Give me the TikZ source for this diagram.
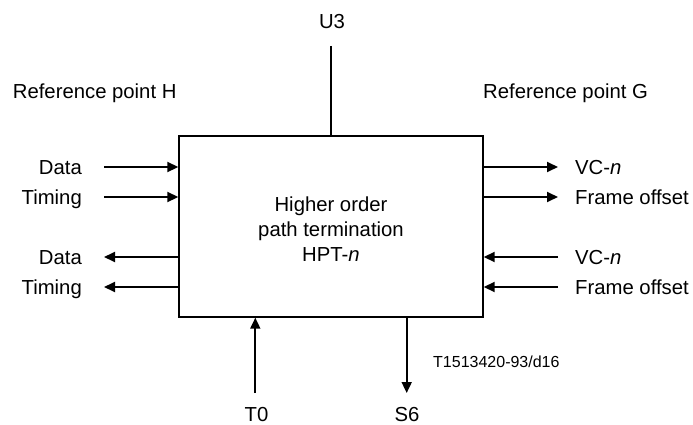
\documentclass[tikz,border=0pt]{standalone}
\usepackage{fontspec}
\setmainfont{Liberation Sans}
\usetikzlibrary{arrows.meta}
\begin{document}
\begin{tikzpicture}[x=1pt,y=-1pt,
  lbl/.style={font=\fontsize{20.3}{25}\selectfont, inner sep=0pt},
  small/.style={font=\fontsize{16}{19}\selectfont, inner sep=0pt},
  arr/.style={line width=1.8pt, -{Triangle[length=11pt,width=10pt]}},
  plain/.style={line width=1.8pt},
  boxst/.style={draw, line width=1.4pt, minimum width=304pt, minimum height=181pt, inner sep=0pt}]
\useasboundingbox (0,0) rectangle (693,425);
% main box
\node[boxst] (hpt) at (331,226.5) {};
\node[lbl, anchor=base] (t1) at (331,211.7) {Higher order};
\node[lbl, anchor=base] (t2) at (331,236.7) {path termination};
\node[lbl, anchor=base] (t3) at (331,261.7) {HPT-\textit{n}};
% reference points
\node[lbl, anchor=base west] (refH) at (12.7,98.3) {Reference point H};
\node[lbl, anchor=base west] (refG) at (483,98.3) {Reference point G};
% U3
\node[lbl, anchor=base] (u3) at (332,28.3) {U3};
\coordinate (u3end) at (331,46);
\draw[plain] (u3end) -- (u3end |- hpt.north);
% left side
\coordinate (l1) at (104,167);
\coordinate (l2) at (104,197);
\coordinate (l3) at (104,257);
\coordinate (l4) at (104,287);
\draw[arr] (l1) -- (l1 -| hpt.west);
\draw[arr] (l2) -- (l2 -| hpt.west);
\draw[arr] (l3 -| hpt.west) -- (l3);
\draw[arr] (l4 -| hpt.west) -- (l4);
\node[lbl, anchor=base east] (ld1) at (82,174.5) {Data};
\node[lbl, anchor=base east] (lt1) at (82,204.5) {Timing};
\node[lbl, anchor=base east] (ld2) at (82,264.5) {Data};
\node[lbl, anchor=base east] (lt2) at (82,294.5) {Timing};
% right side
\coordinate (r1) at (558,167);
\coordinate (r2) at (558,197);
\coordinate (r3) at (558,257);
\coordinate (r4) at (558,287);
\draw[arr] (r1 -| hpt.east) -- (r1);
\draw[arr] (r2 -| hpt.east) -- (r2);
\draw[arr] (r3) -- (r3 -| hpt.east);
\draw[arr] (r4) -- (r4 -| hpt.east);
\node[lbl, anchor=base west] (rv1) at (575,174.5) {VC-\textit{n}};
\node[lbl, anchor=base west] (rf1) at (575,204.5) {Frame offset};
\node[lbl, anchor=base west] (rv2) at (575,264.5) {VC-\textit{n}};
\node[lbl, anchor=base west] (rf2) at (575,294.5) {Frame offset};
% bottom
\coordinate (b1) at (255.3,393);
\coordinate (b2) at (406.7,393);
\draw[arr] (b1) -- (b1 |- hpt.south);
\draw[arr] (b2 |- hpt.south) -- (b2);
\node[lbl, anchor=base] (t0) at (256.5,421.5) {T0};
\node[lbl, anchor=base] (s6) at (407,421.5) {S6};
\node[small, anchor=base west] (code) at (433,367) {T1513420-93/d16};
\end{tikzpicture}
\end{document}
